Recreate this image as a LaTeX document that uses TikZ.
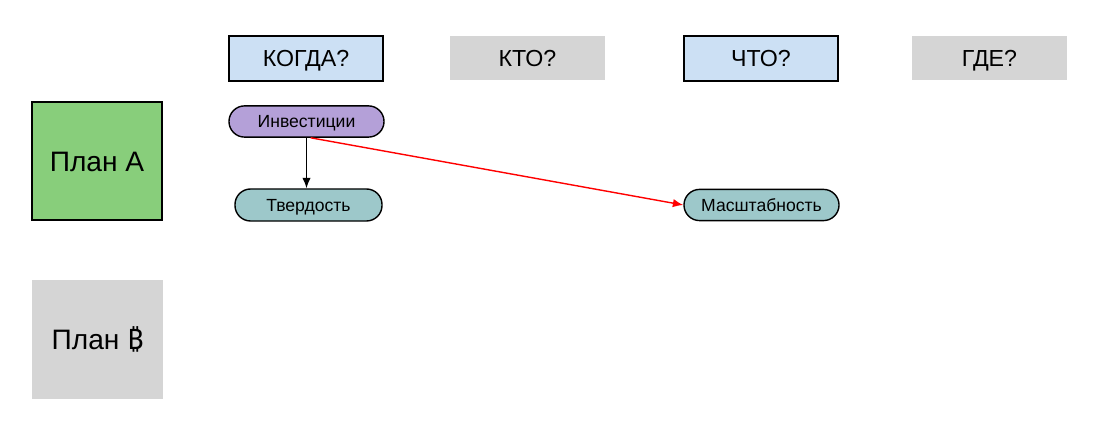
\documentclass[tikz,border=0pt]{standalone}
\usepackage{fontspec}
\setmainfont{Liberation Sans}
\newfontfamily\coinfont{Noto Sans}
\usetikzlibrary{arrows.meta, positioning}
\definecolor{askblue}{HTML}{CCE0F4}
\definecolor{askgray}{HTML}{D5D5D5}
\definecolor{plangreen}{HTML}{88CE7B}
\definecolor{pillpurple}{HTML}{B4A0D8}
\definecolor{pillteal}{HTML}{9DC8CA}
\tikzset{question/.style={rectangle, minimum width=3.85cm, minimum height=1.12cm, inner sep=0pt, text height=11.8pt, text depth=0pt, font=\fontsize{16.5}{19}\selectfont},
  plan/.style={rectangle, minimum width=3.25cm, minimum height=2.95cm, inner sep=0pt, text height=14.3pt, text depth=0pt, font=\fontsize{20}{24}\selectfont},
  pill/.style={draw, line width=1pt, rounded corners=0.39cm, minimum width=3.875cm, minimum height=0.78cm, inner sep=0pt, text height=9pt, text depth=0pt, font=\fontsize{12.5}{15}\selectfont},
  link/.style={-{Latex[length=2.6mm, width=2.1mm]}, line width=1pt}}

\begin{document}
\begin{tikzpicture}[x=0.025cm, y=-0.025cm]
            \useasboundingbox (0,0) rectangle (1102,444);
            \node[question, draw, line width=1pt, fill=askblue] (kogda) at (306,58.5) {КОГДА?};
            \node[question, fill=askgray] (kto) at (527.5,58) {КТО?};
            \node[question, draw, line width=1pt, fill=askblue] (chto) at (761,58.5) {ЧТО?};
            \node[question, fill=askgray] (gde) at (989.5,58) {ГДЕ?};

            \node[plan, draw, line width=1pt, fill=plangreen] (plan-a) at (97,161) {План А};
            \node[plan, fill=askgray] (plan-b) at (97.5,339.5) {План {\coinfont ₿}};

            \node[pill, fill=pillpurple] (investicii) at (306.5,121.5) {Инвестиции};
            \node[pill, fill=pillteal, minimum width=3.675cm, minimum height=0.8cm] (tverdost) at (308.5,205) {Твердость};
            \node[pill, fill=pillteal] (masshtab) at (761.5,205) {Масштабность};

            \draw[link] (investicii.south) -- (investicii.south |- tverdost.north);
            \draw[link, red] ([xshift=3pt]investicii.south) -- (masshtab.west);
      \end{tikzpicture}
\end{document}
